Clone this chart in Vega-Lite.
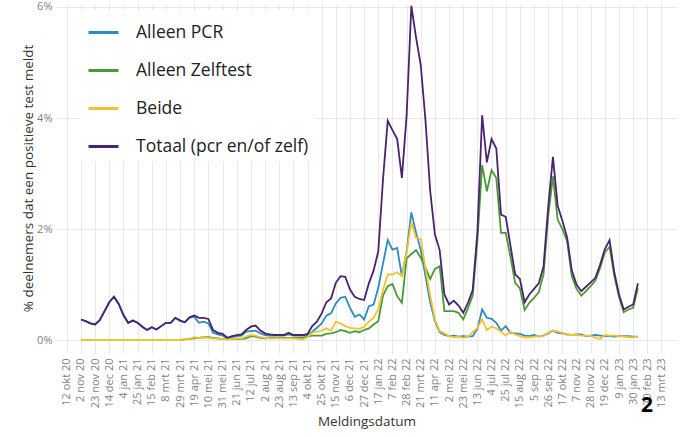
{
"$schema": "https://vega.github.io/schema/vega-lite/v6.json",
"width": 621,
"height": 350,
"autosize": {"type": "none"},
"padding": {"left": 56, "top": 3, "right": 8, "bottom": 84},
"background": "white",
"config": {"view": {"stroke": null}, "font": "Open Sans"},
"title": {"text": "2", "orient": "bottom", "anchor": "end", "fontSize": 21, "fontWeight": "bold", "color": "#000000", "offset": -33, "dx": -24},
"datasets": {
"pcr": [
{"d":"2020-11-02","v":0.37},{"d":"2020-11-09","v":0.34},{"d":"2020-11-16","v":0.30},{"d":"2020-11-23","v":0.28},{"d":"2020-11-30","v":0.36},{"d":"2020-12-07","v":0.52},{"d":"2020-12-14","v":0.68},{"d":"2020-12-21","v":0.78},{"d":"2020-12-28","v":0.65},{"d":"2021-01-04","v":0.45},{"d":"2021-01-11","v":0.31},{"d":"2021-01-18","v":0.35},{"d":"2021-01-25","v":0.31},{"d":"2021-02-01","v":0.24},{"d":"2021-02-08","v":0.18},{"d":"2021-02-15","v":0.23},{"d":"2021-02-22","v":0.19},{"d":"2021-03-01","v":0.25},{"d":"2021-03-08","v":0.31},{"d":"2021-03-15","v":0.31},{"d":"2021-03-22","v":0.40},{"d":"2021-03-29","v":0.35},{"d":"2021-04-05","v":0.32},{"d":"2021-04-12","v":0.40},{"d":"2021-04-19","v":0.42},{"d":"2021-04-26","v":0.31},{"d":"2021-05-03","v":0.33},{"d":"2021-05-10","v":0.30},{"d":"2021-05-17","v":0.13},{"d":"2021-05-24","v":0.10},{"d":"2021-05-31","v":0.08},{"d":"2021-06-07","v":0.03},{"d":"2021-06-14","v":0.05},{"d":"2021-06-21","v":0.07},{"d":"2021-06-28","v":0.08},{"d":"2021-07-05","v":0.15},{"d":"2021-07-12","v":0.16},{"d":"2021-07-19","v":0.17},{"d":"2021-07-26","v":0.12},{"d":"2021-08-02","v":0.09},{"d":"2021-08-09","v":0.08},{"d":"2021-08-16","v":0.08},{"d":"2021-08-23","v":0.08},{"d":"2021-08-30","v":0.08},{"d":"2021-09-06","v":0.10},{"d":"2021-09-13","v":0.08},{"d":"2021-09-20","v":0.08},{"d":"2021-09-27","v":0.08},{"d":"2021-10-04","v":0.09},{"d":"2021-10-11","v":0.15},{"d":"2021-10-18","v":0.22},{"d":"2021-10-25","v":0.30},{"d":"2021-11-01","v":0.44},{"d":"2021-11-08","v":0.48},{"d":"2021-11-15","v":0.66},{"d":"2021-11-22","v":0.76},{"d":"2021-11-29","v":0.78},{"d":"2021-12-06","v":0.58},{"d":"2021-12-13","v":0.42},{"d":"2021-12-20","v":0.46},{"d":"2021-12-27","v":0.37},{"d":"2022-01-03","v":0.61},{"d":"2022-01-10","v":0.64},{"d":"2022-01-17","v":0.94},{"d":"2022-01-24","v":1.38},{"d":"2022-01-31","v":1.80},{"d":"2022-02-07","v":1.63},{"d":"2022-02-14","v":1.66},{"d":"2022-02-21","v":1.15},{"d":"2022-02-28","v":1.60},{"d":"2022-03-07","v":2.30},{"d":"2022-03-14","v":1.93},{"d":"2022-03-21","v":1.62},{"d":"2022-03-28","v":1.15},{"d":"2022-04-04","v":0.68},{"d":"2022-04-11","v":0.34},{"d":"2022-04-18","v":0.14},{"d":"2022-04-25","v":0.09},{"d":"2022-05-02","v":0.07},{"d":"2022-05-09","v":0.08},{"d":"2022-05-16","v":0.06},{"d":"2022-05-23","v":0.07},{"d":"2022-05-30","v":0.06},{"d":"2022-06-06","v":0.07},{"d":"2022-06-13","v":0.20},{"d":"2022-06-20","v":0.55},{"d":"2022-06-27","v":0.40},{"d":"2022-07-04","v":0.38},{"d":"2022-07-11","v":0.31},{"d":"2022-07-18","v":0.17},{"d":"2022-07-25","v":0.25},{"d":"2022-08-01","v":0.13},{"d":"2022-08-08","v":0.12},{"d":"2022-08-15","v":0.11},{"d":"2022-08-22","v":0.08},{"d":"2022-08-29","v":0.07},{"d":"2022-09-05","v":0.09},{"d":"2022-09-12","v":0.06},{"d":"2022-09-19","v":0.08},{"d":"2022-09-26","v":0.12},{"d":"2022-10-03","v":0.17},{"d":"2022-10-10","v":0.13},{"d":"2022-10-17","v":0.12},{"d":"2022-10-24","v":0.10},{"d":"2022-10-31","v":0.09},{"d":"2022-11-07","v":0.10},{"d":"2022-11-14","v":0.10},{"d":"2022-11-21","v":0.07},{"d":"2022-11-28","v":0.08},{"d":"2022-12-05","v":0.09},{"d":"2022-12-12","v":0.08},{"d":"2022-12-19","v":0.07},{"d":"2022-12-26","v":0.07},{"d":"2023-01-02","v":0.06},{"d":"2023-01-09","v":0.07},{"d":"2023-01-16","v":0.07},{"d":"2023-01-23","v":0.07},{"d":"2023-01-30","v":0.06},{"d":"2023-02-06","v":0.06}
],
"zelf": [
{"d":"2020-11-02","v":0},{"d":"2020-11-09","v":0},{"d":"2020-11-16","v":0},{"d":"2020-11-23","v":0},{"d":"2020-11-30","v":0},{"d":"2020-12-07","v":0},{"d":"2020-12-14","v":0},{"d":"2020-12-21","v":0},{"d":"2020-12-28","v":0},{"d":"2021-01-04","v":0},{"d":"2021-01-11","v":0},{"d":"2021-01-18","v":0},{"d":"2021-01-25","v":0},{"d":"2021-02-01","v":0},{"d":"2021-02-08","v":0},{"d":"2021-02-15","v":0},{"d":"2021-02-22","v":0},{"d":"2021-03-01","v":0},{"d":"2021-03-08","v":0},{"d":"2021-03-15","v":0},{"d":"2021-03-22","v":0},{"d":"2021-03-29","v":0},{"d":"2021-04-05","v":0.01},{"d":"2021-04-12","v":0.02},{"d":"2021-04-19","v":0.03},{"d":"2021-04-26","v":0.04},{"d":"2021-05-03","v":0.05},{"d":"2021-05-10","v":0.05},{"d":"2021-05-17","v":0.04},{"d":"2021-05-24","v":0.03},{"d":"2021-05-31","v":0.02},{"d":"2021-06-07","v":0.01},{"d":"2021-06-14","v":0.02},{"d":"2021-06-21","v":0.02},{"d":"2021-06-28","v":0.02},{"d":"2021-07-05","v":0.03},{"d":"2021-07-12","v":0.07},{"d":"2021-07-19","v":0.06},{"d":"2021-07-26","v":0.04},{"d":"2021-08-02","v":0.03},{"d":"2021-08-09","v":0.04},{"d":"2021-08-16","v":0.04},{"d":"2021-08-23","v":0.04},{"d":"2021-08-30","v":0.04},{"d":"2021-09-06","v":0.04},{"d":"2021-09-13","v":0.04},{"d":"2021-09-20","v":0.04},{"d":"2021-09-27","v":0.04},{"d":"2021-10-04","v":0.06},{"d":"2021-10-11","v":0.08},{"d":"2021-10-18","v":0.08},{"d":"2021-10-25","v":0.08},{"d":"2021-11-01","v":0.11},{"d":"2021-11-08","v":0.12},{"d":"2021-11-15","v":0.14},{"d":"2021-11-22","v":0.18},{"d":"2021-11-29","v":0.16},{"d":"2021-12-06","v":0.13},{"d":"2021-12-13","v":0.16},{"d":"2021-12-20","v":0.14},{"d":"2021-12-27","v":0.18},{"d":"2022-01-03","v":0.21},{"d":"2022-01-10","v":0.28},{"d":"2022-01-17","v":0.34},{"d":"2022-01-24","v":0.80},{"d":"2022-01-31","v":0.97},{"d":"2022-02-07","v":1.01},{"d":"2022-02-14","v":0.79},{"d":"2022-02-21","v":0.67},{"d":"2022-02-28","v":1.47},{"d":"2022-03-07","v":1.55},{"d":"2022-03-14","v":1.62},{"d":"2022-03-21","v":1.48},{"d":"2022-03-28","v":1.30},{"d":"2022-04-04","v":1.10},{"d":"2022-04-11","v":1.28},{"d":"2022-04-18","v":1.33},{"d":"2022-04-25","v":0.52},{"d":"2022-05-02","v":0.52},{"d":"2022-05-09","v":0.52},{"d":"2022-05-16","v":0.49},{"d":"2022-05-23","v":0.37},{"d":"2022-05-30","v":0.57},{"d":"2022-06-06","v":0.80},{"d":"2022-06-13","v":1.80},{"d":"2022-06-20","v":3.15},{"d":"2022-06-27","v":2.68},{"d":"2022-07-04","v":3.06},{"d":"2022-07-11","v":2.92},{"d":"2022-07-18","v":1.93},{"d":"2022-07-25","v":1.93},{"d":"2022-08-01","v":1.50},{"d":"2022-08-08","v":1.03},{"d":"2022-08-15","v":0.93},{"d":"2022-08-22","v":0.54},{"d":"2022-08-29","v":0.67},{"d":"2022-09-05","v":0.76},{"d":"2022-09-12","v":0.86},{"d":"2022-09-19","v":1.18},{"d":"2022-09-26","v":2.23},{"d":"2022-10-03","v":2.95},{"d":"2022-10-10","v":2.17},{"d":"2022-10-17","v":2.00},{"d":"2022-10-24","v":1.78},{"d":"2022-10-31","v":1.15},{"d":"2022-11-07","v":0.92},{"d":"2022-11-14","v":0.80},{"d":"2022-11-21","v":0.88},{"d":"2022-11-28","v":0.97},{"d":"2022-12-05","v":1.07},{"d":"2022-12-12","v":1.30},{"d":"2022-12-19","v":1.58},{"d":"2022-12-26","v":1.68},{"d":"2023-01-02","v":1.15},{"d":"2023-01-09","v":0.78},{"d":"2023-01-16","v":0.50},{"d":"2023-01-23","v":0.55},{"d":"2023-01-30","v":0.58},{"d":"2023-02-06","v":0.93}
],
"beide": [
{"d":"2020-11-02","v":0},{"d":"2020-11-09","v":0},{"d":"2020-11-16","v":0},{"d":"2020-11-23","v":0},{"d":"2020-11-30","v":0},{"d":"2020-12-07","v":0},{"d":"2020-12-14","v":0},{"d":"2020-12-21","v":0},{"d":"2020-12-28","v":0},{"d":"2021-01-04","v":0},{"d":"2021-01-11","v":0},{"d":"2021-01-18","v":0},{"d":"2021-01-25","v":0},{"d":"2021-02-01","v":0},{"d":"2021-02-08","v":0},{"d":"2021-02-15","v":0},{"d":"2021-02-22","v":0},{"d":"2021-03-01","v":0},{"d":"2021-03-08","v":0},{"d":"2021-03-15","v":0},{"d":"2021-03-22","v":0},{"d":"2021-03-29","v":0},{"d":"2021-04-05","v":0.01},{"d":"2021-04-12","v":0.02},{"d":"2021-04-19","v":0.05},{"d":"2021-04-26","v":0.04},{"d":"2021-05-03","v":0.05},{"d":"2021-05-10","v":0.04},{"d":"2021-05-17","v":0.03},{"d":"2021-05-24","v":0.02},{"d":"2021-05-31","v":0.02},{"d":"2021-06-07","v":0.01},{"d":"2021-06-14","v":0.02},{"d":"2021-06-21","v":0.03},{"d":"2021-06-28","v":0.03},{"d":"2021-07-05","v":0.06},{"d":"2021-07-12","v":0.09},{"d":"2021-07-19","v":0.08},{"d":"2021-07-26","v":0.05},{"d":"2021-08-02","v":0.04},{"d":"2021-08-09","v":0.03},{"d":"2021-08-16","v":0.03},{"d":"2021-08-23","v":0.03},{"d":"2021-08-30","v":0.03},{"d":"2021-09-06","v":0.03},{"d":"2021-09-13","v":0.03},{"d":"2021-09-20","v":0.02},{"d":"2021-09-27","v":0.01},{"d":"2021-10-04","v":0.05},{"d":"2021-10-11","v":0.13},{"d":"2021-10-18","v":0.15},{"d":"2021-10-25","v":0.17},{"d":"2021-11-01","v":0.21},{"d":"2021-11-08","v":0.17},{"d":"2021-11-15","v":0.33},{"d":"2021-11-22","v":0.30},{"d":"2021-11-29","v":0.25},{"d":"2021-12-06","v":0.22},{"d":"2021-12-13","v":0.21},{"d":"2021-12-20","v":0.20},{"d":"2021-12-27","v":0.24},{"d":"2022-01-03","v":0.33},{"d":"2022-01-10","v":0.40},{"d":"2022-01-17","v":0.55},{"d":"2022-01-24","v":0.90},{"d":"2022-01-31","v":1.18},{"d":"2022-02-07","v":1.18},{"d":"2022-02-14","v":1.22},{"d":"2022-02-21","v":1.15},{"d":"2022-02-28","v":1.58},{"d":"2022-03-07","v":2.12},{"d":"2022-03-14","v":1.84},{"d":"2022-03-21","v":1.82},{"d":"2022-03-28","v":1.28},{"d":"2022-04-04","v":0.80},{"d":"2022-04-11","v":0.37},{"d":"2022-04-18","v":0.16},{"d":"2022-04-25","v":0.12},{"d":"2022-05-02","v":0.07},{"d":"2022-05-09","v":0.05},{"d":"2022-05-16","v":0.06},{"d":"2022-05-23","v":0.04},{"d":"2022-05-30","v":0.06},{"d":"2022-06-06","v":0.14},{"d":"2022-06-13","v":0.22},{"d":"2022-06-20","v":0.37},{"d":"2022-06-27","v":0.18},{"d":"2022-07-04","v":0.24},{"d":"2022-07-11","v":0.21},{"d":"2022-07-18","v":0.15},{"d":"2022-07-25","v":0.08},{"d":"2022-08-01","v":0.15},{"d":"2022-08-08","v":0.10},{"d":"2022-08-15","v":0.07},{"d":"2022-08-22","v":0.05},{"d":"2022-08-29","v":0.05},{"d":"2022-09-05","v":0.06},{"d":"2022-09-12","v":0.07},{"d":"2022-09-19","v":0.07},{"d":"2022-09-26","v":0.13},{"d":"2022-10-03","v":0.17},{"d":"2022-10-10","v":0.15},{"d":"2022-10-17","v":0.13},{"d":"2022-10-24","v":0.09},{"d":"2022-10-31","v":0.09},{"d":"2022-11-07","v":0.09},{"d":"2022-11-14","v":0.08},{"d":"2022-11-21","v":0.08},{"d":"2022-11-28","v":0.08},{"d":"2022-12-05","v":0.04},{"d":"2022-12-12","v":0.02},{"d":"2022-12-19","v":0.09},{"d":"2022-12-26","v":0.08},{"d":"2023-01-02","v":0.08},{"d":"2023-01-09","v":0.07},{"d":"2023-01-16","v":0.06},{"d":"2023-01-23","v":0.05},{"d":"2023-01-30","v":0.05},{"d":"2023-02-06","v":0.06}
],
"totaal": [
{"d":"2020-11-02","v":0.37},{"d":"2020-11-09","v":0.34},{"d":"2020-11-16","v":0.30},{"d":"2020-11-23","v":0.28},{"d":"2020-11-30","v":0.36},{"d":"2020-12-07","v":0.52},{"d":"2020-12-14","v":0.68},{"d":"2020-12-21","v":0.78},{"d":"2020-12-28","v":0.65},{"d":"2021-01-04","v":0.45},{"d":"2021-01-11","v":0.31},{"d":"2021-01-18","v":0.35},{"d":"2021-01-25","v":0.31},{"d":"2021-02-01","v":0.24},{"d":"2021-02-08","v":0.18},{"d":"2021-02-15","v":0.23},{"d":"2021-02-22","v":0.19},{"d":"2021-03-01","v":0.25},{"d":"2021-03-08","v":0.31},{"d":"2021-03-15","v":0.31},{"d":"2021-03-22","v":0.40},{"d":"2021-03-29","v":0.35},{"d":"2021-04-05","v":0.32},{"d":"2021-04-12","v":0.41},{"d":"2021-04-19","v":0.44},{"d":"2021-04-26","v":0.40},{"d":"2021-05-03","v":0.40},{"d":"2021-05-10","v":0.38},{"d":"2021-05-17","v":0.18},{"d":"2021-05-24","v":0.13},{"d":"2021-05-31","v":0.11},{"d":"2021-06-07","v":0.04},{"d":"2021-06-14","v":0.07},{"d":"2021-06-21","v":0.09},{"d":"2021-06-28","v":0.10},{"d":"2021-07-05","v":0.18},{"d":"2021-07-12","v":0.24},{"d":"2021-07-19","v":0.26},{"d":"2021-07-26","v":0.17},{"d":"2021-08-02","v":0.12},{"d":"2021-08-09","v":0.10},{"d":"2021-08-16","v":0.09},{"d":"2021-08-23","v":0.09},{"d":"2021-08-30","v":0.09},{"d":"2021-09-06","v":0.13},{"d":"2021-09-13","v":0.09},{"d":"2021-09-20","v":0.09},{"d":"2021-09-27","v":0.09},{"d":"2021-10-04","v":0.11},{"d":"2021-10-11","v":0.25},{"d":"2021-10-18","v":0.33},{"d":"2021-10-25","v":0.48},{"d":"2021-11-01","v":0.68},{"d":"2021-11-08","v":0.75},{"d":"2021-11-15","v":1.03},{"d":"2021-11-22","v":1.15},{"d":"2021-11-29","v":1.14},{"d":"2021-12-06","v":0.91},{"d":"2021-12-13","v":0.78},{"d":"2021-12-20","v":0.74},{"d":"2021-12-27","v":0.72},{"d":"2022-01-03","v":1.02},{"d":"2022-01-10","v":1.25},{"d":"2022-01-17","v":1.60},{"d":"2022-01-24","v":2.90},{"d":"2022-01-31","v":3.95},{"d":"2022-02-07","v":3.78},{"d":"2022-02-14","v":3.62},{"d":"2022-02-21","v":2.92},{"d":"2022-02-28","v":4.05},{"d":"2022-03-07","v":6.02},{"d":"2022-03-14","v":5.45},{"d":"2022-03-21","v":4.95},{"d":"2022-03-28","v":3.95},{"d":"2022-04-04","v":2.68},{"d":"2022-04-11","v":1.90},{"d":"2022-04-18","v":1.62},{"d":"2022-04-25","v":0.82},{"d":"2022-05-02","v":0.64},{"d":"2022-05-09","v":0.71},{"d":"2022-05-16","v":0.62},{"d":"2022-05-23","v":0.49},{"d":"2022-05-30","v":0.67},{"d":"2022-06-06","v":0.90},{"d":"2022-06-13","v":1.95},{"d":"2022-06-20","v":4.05},{"d":"2022-06-27","v":3.20},{"d":"2022-07-04","v":3.62},{"d":"2022-07-11","v":3.45},{"d":"2022-07-18","v":2.26},{"d":"2022-07-25","v":2.22},{"d":"2022-08-01","v":1.70},{"d":"2022-08-08","v":1.18},{"d":"2022-08-15","v":1.10},{"d":"2022-08-22","v":0.68},{"d":"2022-08-29","v":0.82},{"d":"2022-09-05","v":0.92},{"d":"2022-09-12","v":1.02},{"d":"2022-09-19","v":1.32},{"d":"2022-09-26","v":2.40},{"d":"2022-10-03","v":3.30},{"d":"2022-10-10","v":2.42},{"d":"2022-10-17","v":2.15},{"d":"2022-10-24","v":1.85},{"d":"2022-10-31","v":1.25},{"d":"2022-11-07","v":1.00},{"d":"2022-11-14","v":0.88},{"d":"2022-11-21","v":0.96},{"d":"2022-11-28","v":1.04},{"d":"2022-12-05","v":1.12},{"d":"2022-12-12","v":1.36},{"d":"2022-12-19","v":1.64},{"d":"2022-12-26","v":1.80},{"d":"2023-01-02","v":1.22},{"d":"2023-01-09","v":0.82},{"d":"2023-01-16","v":0.55},{"d":"2023-01-23","v":0.60},{"d":"2023-01-30","v":0.64},{"d":"2023-02-06","v":1.02}
]
},
"encoding": {
"x": {"field": "d", "type": "temporal",
 "scale": {"type": "utc", "domain": [{"year": 2020, "month": "sep", "date": 26, "utc": true}, {"year": 2023, "month": "apr", "date": 5, "utc": true}]},
 "axis": {
  "values": [
   {"year":2020,"month":"oct","date":12,"utc":true},{"year":2020,"month":"nov","date":2,"utc":true},{"year":2020,"month":"nov","date":23,"utc":true},{"year":2020,"month":"dec","date":14,"utc":true},
   {"year":2021,"month":"jan","date":4,"utc":true},{"year":2021,"month":"jan","date":25,"utc":true},{"year":2021,"month":"feb","date":15,"utc":true},{"year":2021,"month":"mar","date":8,"utc":true},{"year":2021,"month":"mar","date":29,"utc":true},{"year":2021,"month":"apr","date":19,"utc":true},{"year":2021,"month":"may","date":10,"utc":true},{"year":2021,"month":"may","date":31,"utc":true},{"year":2021,"month":"jun","date":21,"utc":true},{"year":2021,"month":"jul","date":12,"utc":true},{"year":2021,"month":"aug","date":2,"utc":true},{"year":2021,"month":"aug","date":23,"utc":true},{"year":2021,"month":"sep","date":13,"utc":true},{"year":2021,"month":"oct","date":4,"utc":true},{"year":2021,"month":"oct","date":25,"utc":true},{"year":2021,"month":"nov","date":15,"utc":true},{"year":2021,"month":"dec","date":6,"utc":true},{"year":2021,"month":"dec","date":27,"utc":true},
   {"year":2022,"month":"jan","date":17,"utc":true},{"year":2022,"month":"feb","date":7,"utc":true},{"year":2022,"month":"feb","date":28,"utc":true},{"year":2022,"month":"mar","date":21,"utc":true},{"year":2022,"month":"apr","date":11,"utc":true},{"year":2022,"month":"may","date":2,"utc":true},{"year":2022,"month":"may","date":23,"utc":true},{"year":2022,"month":"jun","date":13,"utc":true},{"year":2022,"month":"jul","date":4,"utc":true},{"year":2022,"month":"jul","date":25,"utc":true},{"year":2022,"month":"aug","date":15,"utc":true},{"year":2022,"month":"sep","date":5,"utc":true},{"year":2022,"month":"sep","date":26,"utc":true},{"year":2022,"month":"oct","date":17,"utc":true},{"year":2022,"month":"nov","date":7,"utc":true},{"year":2022,"month":"nov","date":28,"utc":true},{"year":2022,"month":"dec","date":19,"utc":true},
   {"year":2023,"month":"jan","date":9,"utc":true},{"year":2023,"month":"jan","date":30,"utc":true},{"year":2023,"month":"feb","date":20,"utc":true},{"year":2023,"month":"mar","date":13,"utc":true}
  ],
  "labelExpr": "utcdate(datum.value) + ' ' + ['jan','feb','mrt','apr','mei','jun','jul','aug','sep','okt','nov','dec'][utcmonth(datum.value)] + ' ' + utcFormat(datum.value, '%y')",
  "labelAngle": 270, "labelFontSize": 11, "labelColor": "#7f7f7f", "labelPadding": 5, "labelOverlap": false, "labelFlush": false, "labelBound": false,
  "ticks": false, "domain": false, "grid": true, "gridColor": "#e8e8e8", "gridWidth": 1,
  "title": "Meldingsdatum", "titleFontSize": 13.5, "titleFontWeight": "normal", "titleColor": "#333333", "titlePadding": 6
 }},
"y": {"field": "v", "type": "quantitative",
 "scale": {"domain": [-0.234, 6.072], "nice": false, "zero": false},
 "axis": {"values": [0, 2, 4, 6], "labelExpr": "datum.value + '%'", "labelFontSize": 11, "labelColor": "#7f7f7f", "labelPadding": 4,
  "ticks": false, "domain": false, "grid": true, "gridColor": "#e8e8e8", "gridWidth": 1,
  "title": "% deelnemers dat een positieve test meldt", "titleFontSize": 13.5, "titleFontWeight": "normal", "titleColor": "#333333", "titlePadding": 1}},
"color": {"field": "s", "type": "nominal",
 "scale": {"domain": ["Alleen PCR", "Alleen Zelftest", "Beide", "Totaal (pcr en/of zelf)"], "range": ["#2c8cbf", "#4a9b2f", "#f2c230", "#4a226e"]},
 "legend": {"orient": "none", "legendX": 25, "legendY": 7, "title": null, "symbolType": "stroke", "symbolSize": 900, "symbolStrokeWidth": 3,
  "labelFontSize": 17.5, "labelColor": "#222222", "labelOffset": 16, "rowPadding": 13, "fillColor": "white", "padding": 6, "labelLimit": 400}}
},
"layer": [
 {"data": {"name": "pcr"}, "mark": {"type": "line", "strokeWidth": 1.8}, "encoding": {"color": {"datum": "Alleen PCR"}}},
 {"data": {"name": "zelf"}, "mark": {"type": "line", "strokeWidth": 1.8}, "encoding": {"color": {"datum": "Alleen Zelftest"}}},
 {"data": {"name": "beide"}, "mark": {"type": "line", "strokeWidth": 1.8}, "encoding": {"color": {"datum": "Beide"}}},
 {"data": {"name": "totaal"}, "mark": {"type": "line", "strokeWidth": 1.8}, "encoding": {"color": {"datum": "Totaal (pcr en/of zelf)"}}}
]
}
